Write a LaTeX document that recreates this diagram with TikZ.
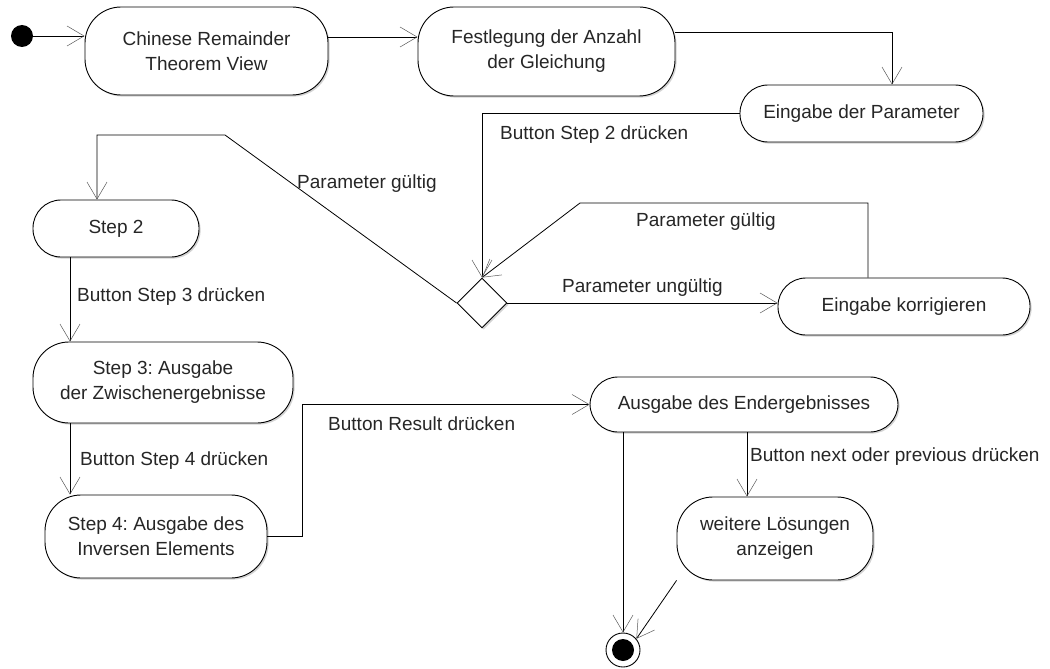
\documentclass[tikz,border=0pt]{standalone}
\usepackage{fontspec}
\setmainfont{Liberation Sans}
\frenchspacing
\usetikzlibrary{arrows.meta,shapes.geometric,shadows}
\tikzset{
  act/.style={draw=black, line width=0.9pt, fill=white, rounded corners=28pt, align=center,
    inner sep=0pt, font=\fontsize{19}{25}\selectfont, text=black!85,
    drop shadow={shadow xshift=1.6pt, shadow yshift=-1.6pt, opacity=0.35}},
  act2/.style={act, rounded corners=36pt},
  dec/.style={draw=black, line width=0.9pt, fill=white, diamond, inner sep=0pt,
    minimum width=50pt, minimum height=50pt,
    drop shadow={shadow xshift=1.6pt, shadow yshift=-1.6pt, opacity=0.35}},
  lbl/.style={anchor=west, inner sep=0pt, font=\fontsize{19}{25}\selectfont, text=black!85},
  arr/.style={line width=0.8pt, -{Straight Barb[length=17pt, width=20pt, line width=0.5pt, color=black!65]}},
  ln/.style={line width=0.8pt}
}
\begin{document}
\begin{tikzpicture}[x=1pt, y=-1pt]
\useasboundingbox (0,0) rectangle (1050,669);
% nodes
\node[circle, fill=black, minimum size=22pt, inner sep=0pt] (init) at (22,36) {};
\node[act2, minimum width=243pt, minimum height=88pt] (crt) at (206.5,51) {Chinese Remainder\\Theorem View};
\node[act2, minimum width=257pt, minimum height=89pt] (fest) at (546.5,51.5) {Festlegung der Anzahl\\der Gleichung};
\node[act, minimum width=243pt, minimum height=57pt] (param) at (861.5,113.5) {Eingabe der Parameter};
\node[act, minimum width=166pt, minimum height=57pt] (step2) at (116,228.5) {Step 2};
\node[dec] (dia) at (482,303) {};
\node[act, minimum width=252pt, minimum height=57pt] (korr) at (904,306.5) {Eingabe korrigieren};
\node[act2, minimum width=260pt, minimum height=81pt] (step3) at (163,382.5) {Step 3: Ausgabe\\der Zwischenergebnisse};
\node[act2, minimum width=222pt, minimum height=83pt] (step4) at (156,536.5) {Step 4: Ausgabe des\\Inversen Elements};
\node[act, minimum width=308pt, minimum height=55pt] (ausg) at (744,404.5) {Ausgabe des Endergebnisses};
\node[act2, minimum width=196pt, minimum height=83pt] (weitere) at (775,538.5) {weitere Lösungen\\anzeigen};
\node[circle, draw=black, line width=0.9pt, fill=white, minimum size=34pt, inner sep=0pt] (final) at (623,650) {};
\node[circle, fill=black, minimum size=22pt, inner sep=0pt] (finalin) at (final.center) {};
% bend points
\coordinate (k1) at (225,135);
\coordinate (k2) at (580,203);
% connectors
\draw[arr] (init.east) -- (init -| crt.west);
\draw[arr] ([yshift=14pt]crt.east) -- ([yshift=14pt]crt.east -| fest.west);
\draw[arr] ([yshift=19.5pt]fest.east) -| ([xshift=30.5pt]param.north);
\draw[arr] (param.west) -| (dia.north);
\draw[arr] (dia.west) -- (k1) -| ([xshift=-19pt]step2.north);
\draw[arr] (dia.east) -- (dia.east -| korr.west);
\draw[arr] ([xshift=-36pt]korr.north) |- (k2) -- (dia.north);
\draw[arr] ([xshift=-46pt]step2.south) -- ([xshift=-46pt]step2.south |- step3.north);
\draw[arr] ([xshift=-93pt]step3.south) -- ([xshift=-93pt]step3.south |- step4.north);
\draw[arr] (step4.east) -- ++(35,0) |- (ausg.west);
\draw[arr] (ausg.south -| final.north) -- (final.north);
\draw[arr] ([xshift=3pt]ausg.south) -- ([xshift=3pt]ausg.south |- weitere.north);
\draw[arr] (weitere.south west) -- (final.40);
% labels
\node[lbl] (l1) at (500,135) {Button Step 2 drücken};
\node[lbl] (l2) at (297,184) {Parameter gültig};
\node[lbl] (l3) at (636,222) {Parameter gültig};
\node[lbl] (l4) at (562,288) {Parameter ungültig};
\node[lbl] (l5) at (77,297) {Button Step 3 drücken};
\node[lbl] (l6) at (80,461) {Button Step 4 drücken};
\node[lbl] (l7) at (328,424) {Button Result drücken};
\node[lbl] (l8) at (750,457) {Button next oder previous drücken};
\end{tikzpicture}
\end{document}
